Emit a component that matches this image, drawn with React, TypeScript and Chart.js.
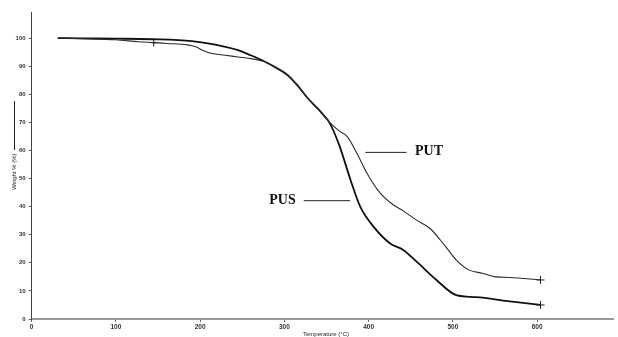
import React, { useEffect, useRef } from "react";
import { Chart, registerables } from "chart.js";

Chart.register(...registerables);

// Temperature (°C) and weight (%) readings for each curve
const pusTemp = [31, 60, 100, 143, 190, 230, 245, 260, 277, 290, 304, 316, 328, 340, 347, 353, 365, 378.5, 390, 406, 425.5, 441, 457, 480.5, 504, 527.5, 565, 604];
const pusWeight = [100, 99.9, 99.8, 99.6, 98.9, 96.9, 95.7, 93.9, 91.6, 89.5, 86.8, 83, 78.5, 74.8, 72.4, 70.2, 62, 49.5, 40, 32.8, 26.9, 24.6, 20.4, 13.9, 8.5, 7.8, 6.4, 5.0];

const putTemp = [31, 60, 100, 127, 145, 160, 185, 195, 203, 213, 230, 245, 262, 277, 290, 304, 316, 328, 340, 347, 353, 365, 374.6, 386, 398, 414, 429.5, 441, 457, 472.6, 490, 504, 519.6, 535, 551, 567, 604];
const putWeight = [100, 99.8, 99.4, 98.7, 98.4, 98.1, 97.6, 96.9, 95.7, 94.6, 93.9, 93.3, 92.6, 91.6, 89.5, 86.8, 83, 78.5, 74.8, 72.4, 70.2, 67.0, 64.9, 59, 51.9, 44.7, 40.6, 38.5, 35.2, 32.3, 26.3, 21, 17.4, 16.3, 15, 14.8, 13.9];

// indices carrying a "+" marker
const pusMarks = [pusTemp.length - 1];
const putMarks = [4, putTemp.length - 1];

const xTicks = [0, 100, 200, 300, 400, 500, 600];
const yTicks = [0, 10, 20, 30, 40, 50, 60, 70, 80, 90, 100];

const seriesNames = ["PUS", "PUT"];
const xTitle = "Temperature (°C)";
const yTitle = "Weight % (%)";

const toPoints = (xs: number[], ys: number[]) => xs.map((x, i) => ({ x, y: ys[i] }));
const radii = (n: number, marks: number[]) => Array.from({ length: n }, (_, i) => (marks.includes(i) ? 4 : 0));

const labelPlugin = {
  id: "labels",
  afterDraw(chart: any) {
    const { ctx } = chart;
    const xs = chart.scales.x;
    const ys = chart.scales.y;
    ctx.save();
    ctx.fillStyle = "#111";
    ctx.strokeStyle = "#222";
    ctx.lineWidth = 1;
    ctx.font = "bold 14px 'Liberation Serif', serif";
    ctx.textBaseline = "middle";
    // PUS
    const pusY = ys.getPixelForValue(42.3);
    ctx.textAlign = "left";
    ctx.fillText(seriesNames[0], xs.getPixelForValue(282), pusY);
    ctx.beginPath();
    ctx.moveTo(xs.getPixelForValue(323), pusY + 0.5);
    ctx.lineTo(xs.getPixelForValue(378), pusY + 0.5);
    ctx.stroke();
    // PUT
    const putY = ys.getPixelForValue(59.5);
    ctx.fillText(seriesNames[1], xs.getPixelForValue(455), putY);
    ctx.beginPath();
    ctx.moveTo(xs.getPixelForValue(396), putY + 0.5);
    ctx.lineTo(xs.getPixelForValue(445), putY + 0.5);
    ctx.stroke();
    // axis titles
    ctx.font = "6px 'Liberation Sans', Arial, sans-serif";
    ctx.fillStyle = "#222";
    ctx.textAlign = "center";
    ctx.textBaseline = "alphabetic";
    ctx.fillText(xTitle, 326, 336);
    ctx.translate(14, 190);
    ctx.rotate(-Math.PI / 2);
    ctx.textAlign = "left";
    ctx.textBaseline = "middle";
    ctx.fillText(yTitle, 0, 0);
    ctx.beginPath();
    ctx.moveTo(40, 0.5);
    ctx.lineTo(89, 0.5);
    ctx.stroke();
    ctx.restore();
  },
};

export default function App() {
  const ref = useRef<HTMLCanvasElement | null>(null);
  useEffect(() => {
    if (!ref.current) return;
    const chart = new Chart(ref.current, {
      type: "line",
      data: {
        datasets: [
          {
            label: seriesNames[1],
            data: toPoints(putTemp, putWeight),
            borderColor: "#2a2a2a",
            borderWidth: 1.1,
            cubicInterpolationMode: "monotone",
            pointStyle: "cross",
            pointRadius: radii(putTemp.length, putMarks),
            pointBorderColor: "#222",
            pointBorderWidth: 1,
            fill: false,
          },
          {
            label: seriesNames[0],
            data: toPoints(pusTemp, pusWeight),
            borderColor: "#111",
            borderWidth: 1.8,
            cubicInterpolationMode: "monotone",
            pointStyle: "cross",
            pointRadius: radii(pusTemp.length, pusMarks),
            pointBorderColor: "#222",
            pointBorderWidth: 1,
            fill: false,
          },
        ],
      },
      options: {
        animation: false,
        responsive: false,
        devicePixelRatio: 1,
        layout: { padding: { left: 0, right: 0, top: 12, bottom: 0 } },
        plugins: { legend: { display: false }, tooltip: { enabled: false } },
        scales: {
          x: {
            type: "linear",
            min: 0,
            max: 690,
            afterBuildTicks: (s: any) => {
              s.ticks = xTicks.map((v) => ({ value: v }));
            },
            afterFit: (s: any) => {
              s.height = 18;
            },
            ticks: {
              font: { size: 6.5, family: "'Liberation Sans', Arial, sans-serif", weight: "bold" },
              color: "#333",
              padding: 1,
              maxRotation: 0,
            },
            grid: { drawOnChartArea: false, drawTicks: true, tickLength: 3, color: "#666" },
            border: { color: "#9a9a9a", width: 2 },
          },
          y: {
            type: "linear",
            min: 0,
            max: 109.3,
            afterBuildTicks: (s: any) => {
              s.ticks = yTicks.map((v) => ({ value: v }));
            },
            afterFit: (s: any) => {
              s.width = 31.6;
            },
            ticks: {
              font: { size: 6, family: "'Liberation Sans', Arial, sans-serif", weight: "bold" },
              color: "#333",
              padding: 3,
            },
            grid: { drawOnChartArea: false, drawTicks: true, tickLength: 3, color: "#666" },
            border: { color: "#444", width: 1 },
          },
        },
      },
      plugins: [labelPlugin],
    } as any);
    return () => chart.destroy();
  }, []);
  return (
    <div style={{ position: "absolute", left: 0, top: 0, width: 618, height: 337, background: "#fff" }}>
      <canvas ref={ref} width={618} height={337} />
    </div>
  );
}
